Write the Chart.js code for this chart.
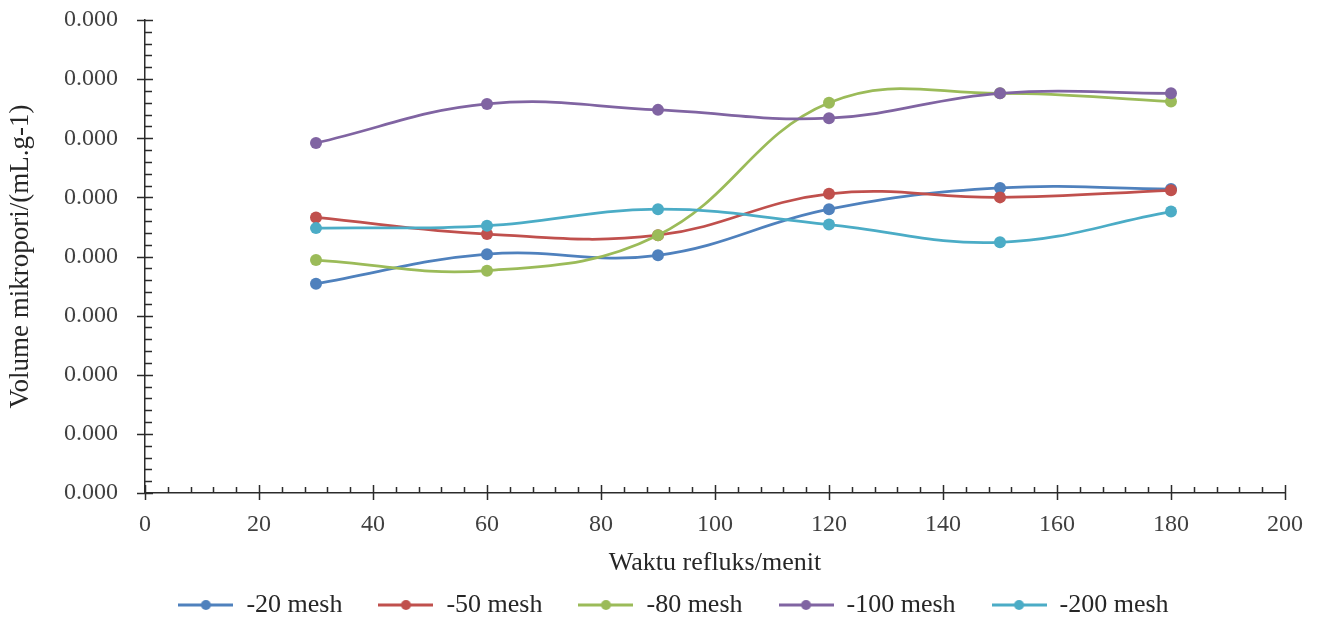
<!DOCTYPE html>
<html>
<head>
<meta charset="utf-8">
<script src="https://cdn.jsdelivr.net/npm/chart.js@4.4.1/dist/chart.umd.min.js"></script>
<style>
  body { margin: 0; background: #fff; }
  canvas { display: block; }
</style>
</head>
<body>
<canvas id="chartMikropori" width="1320" height="623"></canvas>
<script>
// data
const xValues = [30, 60, 90, 120, 150, 180];
const seriesNames = ['-20 mesh', '-50 mesh', '-80 mesh', '-100 mesh', '-200 mesh'];
const mesh20 = [0.000177, 0.000202, 0.000201, 0.000240, 0.000258, 0.000257];
const mesh50 = [0.000233, 0.000219, 0.000218, 0.000253, 0.000250, 0.000256];
const mesh80 = [0.000197, 0.000188, 0.000218, 0.000330, 0.000338, 0.000331];
const mesh100 = [0.000296, 0.000329, 0.000324, 0.000317, 0.000338, 0.000338];
const mesh200 = [0.000224, 0.000226, 0.000240, 0.000227, 0.000212, 0.000238];
const xTicks = [0, 20, 40, 60, 80, 100, 120, 140, 160, 180, 200];
const yTicks = [0, 0.00005, 0.0001, 0.00015, 0.0002, 0.00025, 0.0003, 0.00035, 0.0004];

const colors = ['#4F81BD', '#C0504D', '#9BBB59', '#8064A2', '#4BACC6'];
const allSeries = [mesh20, mesh50, mesh80, mesh100, mesh200];
const axisColor = '#2b2b2b';
const serif = "'Liberation Serif', 'Times New Roman', serif";

// small line+dot picture for the legend
function legendMark(color) {
  const c = document.createElement('canvas');
  c.width = 55; c.height = 14;
  const g = c.getContext('2d');
  g.strokeStyle = color; g.lineWidth = 3;
  g.beginPath(); g.moveTo(0, 7); g.lineTo(55, 7); g.stroke();
  g.fillStyle = color;
  g.beginPath(); g.arc(27.5, 7, 5, 0, Math.PI * 2); g.fill();
  return c;
}

// major ticks cross the axis, minor ticks point inward
const axisTicks = {
  id: 'axisTicks',
  beforeDatasetsDraw(chart) {
    const { ctx, chartArea, scales: { x, y } } = chart;
    ctx.save();
    ctx.strokeStyle = axisColor;
    ctx.lineWidth = 1.5;
    ctx.beginPath();
    for (let i = 0; i <= 50; i++) {
      const px = Math.round(x.getPixelForValue(i * 4)) + 0.5;
      const major = i % 5 === 0;
      ctx.moveTo(px, chartArea.bottom + (major ? 7 : 0));
      ctx.lineTo(px, chartArea.bottom - (major ? 8 : 6));
    }
    for (let i = 0; i <= 40; i++) {
      const py = Math.round(y.getPixelForValue(i * 0.00001)) + 0.5;
      const major = i % 5 === 0;
      ctx.moveTo(chartArea.left - (major ? 8 : 0), py);
      ctx.lineTo(chartArea.left + (major ? 8 : 7), py);
    }
    ctx.stroke();
    ctx.restore();
  }
};

const ctx = document.getElementById('chartMikropori').getContext('2d');
new Chart(ctx, {
  type: 'line',
  data: {
    datasets: seriesNames.map((name, i) => ({
      label: name,
      data: xValues.map((xv, j) => ({ x: xv, y: allSeries[i][j] })),
      borderColor: colors[i],
      backgroundColor: colors[i],
      borderWidth: 2.75,
      pointRadius: 6,
      pointBorderWidth: 0,
      pointHoverRadius: 6,
      tension: 0.4,
      fill: false,
      order: seriesNames.length - i
    }))
  },
  plugins: [axisTicks],
  options: {
    responsive: false,
    animation: false,
    layout: { padding: { left: 62, right: 35, top: 20, bottom: -5 } },
    scales: {
      x: {
        type: 'linear',
        min: 0,
        max: 200,
        afterBuildTicks: (s) => { s.ticks = xTicks.map(v => ({ value: v })); },
        afterFit: (s) => { s.height = 63; },
        grid: { display: false, drawTicks: false, tickLength: 0 },
        border: { display: true, color: axisColor, width: 1.5 },
        ticks: {
          padding: 17,
          color: '#404040',
          maxRotation: 0,
          font: { family: serif, size: 24 }
        },
        title: {
          display: true,
          text: 'Waktu refluks/menit',
          color: '#262626',
          font: { family: serif, size: 26 },
          padding: { top: 0, bottom: -23 }
        }
      },
      y: {
        min: 0,
        max: 0.0004,
        afterBuildTicks: (s) => { s.ticks = yTicks.map(v => ({ value: v })); },
        afterFit: (s) => { s.width = 83; s.paddingTop = 0; s.paddingBottom = 0; },
        grid: { display: false, drawTicks: false, tickLength: 0 },
        border: { display: true, color: axisColor, width: 1.5 },
        ticks: {
          padding: 27,
          color: '#404040',
          font: { family: serif, size: 24 },
          callback: (v) => Number(v).toFixed(3)
        },
        title: {
          display: true,
          text: 'Volume mikropori/(mL.g-1)',
          color: '#262626',
          font: { family: serif, size: 27 },
          padding: { top: -57, bottom: 0 }
        }
      }
    },
    plugins: {
      tooltip: { enabled: false },
      legend: {
        position: 'bottom',
        labels: {
          usePointStyle: true,
          pointStyleWidth: 55,
          padding: 36,
          color: '#262626',
          font: { family: serif, size: 26 },
          generateLabels: (chart) => chart.data.datasets.map((ds, i) => ({
            text: ds.label,
            fillStyle: ds.borderColor,
            strokeStyle: ds.borderColor,
            lineWidth: 0,
            pointStyle: legendMark(ds.borderColor),
            fontColor: '#262626',
            hidden: false,
            datasetIndex: i
          }))
        }
      }
    }
  }
});
</script>
</body>
</html>
